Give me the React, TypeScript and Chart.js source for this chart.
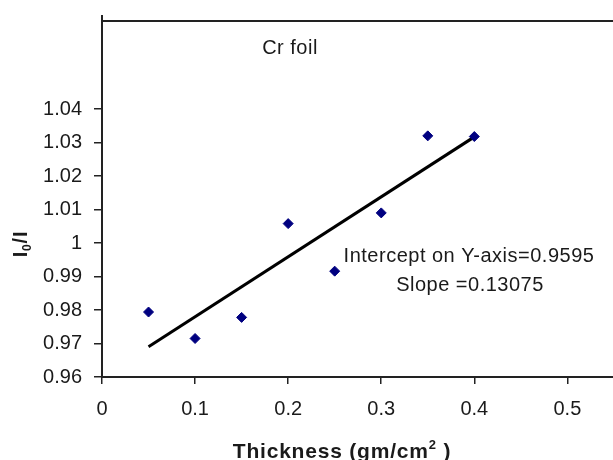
import React, { useEffect, useRef } from "react";
import { Chart, registerables } from "chart.js";

Chart.register(...registerables);

// ---- data ----
const thickness = [0.05, 0.1, 0.15, 0.2, 0.25, 0.3, 0.35, 0.4];
const ratio = [0.9794, 0.9715, 0.9778, 1.0058, 0.9916, 1.009, 1.032, 1.0318];
const fitX = [0.05, 0.4];
const fitY = [0.969, 1.0317];
const xTicks = [0, 0.1, 0.2, 0.3, 0.4, 0.5];
const yTicks = [0.96, 0.97, 0.98, 0.99, 1.0, 1.01, 1.02, 1.03, 1.04];
const chartTitle = "Cr foil";
const annotationLines = ["Intercept on Y-axis=0.9595", "Slope =0.13075"];
const xTitleParts = [
  { t: "Thickness (gm/cm", mode: "n" },
  { t: "2", mode: "sup" },
  { t: " )", mode: "n" },
];
const yTitleParts = [
  { t: "I", mode: "n" },
  { t: "0", mode: "sub" },
  { t: "/I", mode: "n" },
];

const FONT = '"Liberation Sans", Arial, sans-serif';
const TEXT = "#1a1a1a";
const AXIS = "#222222";

function drawParts(
  ctx: CanvasRenderingContext2D,
  parts: { t: string; mode: string }[],
  cx: number,
  cy: number,
  size: number,
  bold: boolean
) {
  const w = bold ? "bold " : "";
  const small = Math.round(size * 0.62);
  const fontFor = (m: string) => `${w}${m === "n" ? size : small}px ${FONT}`;
  let total = 0;
  for (const p of parts) {
    ctx.font = fontFor(p.mode);
    total += ctx.measureText(p.t).width;
  }
  let x = cx - total / 2;
  ctx.textAlign = "left";
  ctx.textBaseline = "alphabetic";
  const base = cy + size * 0.36;
  for (const p of parts) {
    ctx.font = fontFor(p.mode);
    let y = base;
    if (p.mode === "sup") y = base - size * 0.42;
    if (p.mode === "sub") y = base + size * 0.18;
    ctx.fillText(p.t, x, y);
    x += ctx.measureText(p.t).width;
  }
}

const textPlugin = {
  id: "texts",
  afterDraw(chart: any) {
    const ctx: CanvasRenderingContext2D = chart.ctx;
    const a = chart.chartArea;
    ctx.save();
    // left axis stub above the top border
    ctx.strokeStyle = AXIS;
    ctx.lineWidth = 2;
    ctx.beginPath();
    ctx.moveTo(a.left, a.top - 6);
    ctx.lineTo(a.left, a.top + 1);
    ctx.stroke();

    ctx.fillStyle = TEXT;
    try {
      (ctx as any).letterSpacing = "0.5px";
    } catch (e) {}
    ctx.textAlign = "center";
    ctx.textBaseline = "middle";
    ctx.font = `20px ${FONT}`;
    ctx.fillText(chartTitle, a.left + 188, a.top + 27);
    ctx.fillText(annotationLines[0], a.left + 367, a.top + 235);
    ctx.fillText(annotationLines[1], a.left + 368, a.top + 264);
    try {
      (ctx as any).letterSpacing = "0.8px";
    } catch (e) {}
    drawParts(ctx, xTitleParts, a.left + 240, a.bottom + 73, 21, true);
    ctx.save();
    ctx.translate(20, a.top + 223);
    ctx.rotate(-Math.PI / 2);
    drawParts(ctx, yTitleParts, 0, 0, 20, true);
    ctx.restore();
    ctx.restore();
  },
};

export default function App() {
  const ref = useRef<HTMLCanvasElement | null>(null);
  useEffect(() => {
    document.body.style.margin = "0";
    const canvas = ref.current;
    if (!canvas) return;
    const chart = new Chart(canvas, {
      type: "scatter",
      data: {
        datasets: [
          {
            label: "Data",
            data: thickness.map((x, i) => ({ x, y: ratio[i] })),
            pointStyle: "rectRot",
            pointRadius: 5,
            backgroundColor: "#000080",
            borderColor: "#000080",
            borderWidth: 1,
            order: 0,
          },
          {
            label: "Fit",
            data: fitX.map((x, i) => ({ x, y: fitY[i] })),
            showLine: true,
            pointRadius: 0,
            borderColor: "#000000",
            borderWidth: 3,
            order: 1,
          },
        ],
      },
      options: {
        animation: false,
        responsive: false,
        maintainAspectRatio: false,
        layout: { padding: 0, autoPadding: false },
        plugins: {
          legend: { display: false },
          tooltip: { enabled: false },
          title: { display: false },
        },
        scales: {
          x: {
            type: "linear",
            position: "bottom",
            min: 0,
            max: 0.549,
            afterBuildTicks: (s: any) => {
              s.ticks = xTicks.map((v) => ({ value: v }));
            },
            afterFit: (s: any) => {
              s.height = 83;
              s.paddingLeft = 0;
              s.paddingRight = 0;
            },
            grid: {
              drawOnChartArea: false,
              drawTicks: true,
              tickLength: 7,
              color: AXIS,
              lineWidth: 1.5,
            },
            border: { display: true, color: AXIS, width: 2 },
            ticks: {
              color: TEXT,
              padding: 13,
              font: { family: FONT, size: 20 },
              callback: (v: any) => String(parseFloat(Number(v).toFixed(2))),
            },
          },
          x2: {
            type: "linear",
            position: "top",
            min: 0,
            max: 0.549,
            afterFit: (s: any) => {
              s.height = 21;
              s.paddingLeft = 0;
              s.paddingRight = 0;
            },
            grid: { drawOnChartArea: false, drawTicks: false },
            border: { display: true, color: AXIS, width: 2 },
            ticks: { display: false },
          },
          y: {
            type: "linear",
            position: "left",
            min: 0.96,
            max: 1.0663,
            afterBuildTicks: (s: any) => {
              s.ticks = yTicks.map((v) => ({ value: v }));
            },
            afterFit: (s: any) => {
              s.width = 102;
              s.paddingTop = 0;
              s.paddingBottom = 0;
            },
            grid: {
              drawOnChartArea: false,
              drawTicks: true,
              tickLength: 8,
              color: AXIS,
              lineWidth: 1.5,
            },
            border: { display: true, color: AXIS, width: 2 },
            ticks: {
              color: TEXT,
              padding: 12,
              font: { family: FONT, size: 20 },
              callback: (v: any) => String(parseFloat(Number(v).toFixed(2))),
            },
          },
        },
      },
      plugins: [textPlugin],
    });
    return () => chart.destroy();
  }, []);
  return (
    <div style={{ position: "absolute", left: 0, top: 0, width: 613, height: 460, background: "#fff" }}>
      <canvas ref={ref} width={613} height={460} style={{ width: 613, height: 460, display: "block" }} />
    </div>
  );
}
